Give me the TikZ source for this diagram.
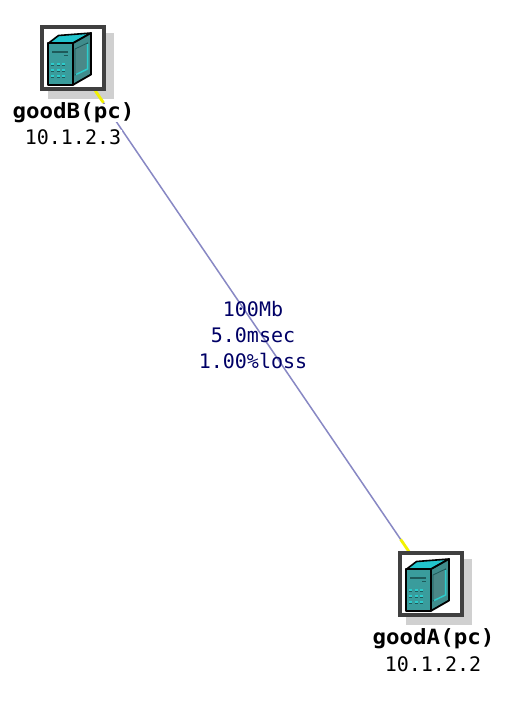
\documentclass[tikz,border=0pt]{standalone}
\usepackage{fontspec}
\usetikzlibrary{calc,backgrounds}
\newfontfamily\regfont{DejaVu Sans Mono}
\newfontfamily\boldfont[FakeStretch=1.07]{DejaVu Sans Mono Bold}
\definecolor{framegray}{HTML}{404040}
\definecolor{shadowgray}{HTML}{D0D0D0}
\definecolor{linkblue}{HTML}{8888C4}
\definecolor{linkyellow}{HTML}{F2F200}
\definecolor{labelnavy}{HTML}{000066}
\definecolor{pcfront}{HTML}{3A9C9C}
\definecolor{pctop}{HTML}{22C4CC}
\definecolor{pcside}{HTML}{3F8C8C}
\definecolor{pcscreen}{HTML}{4A8888}
\definecolor{pcedge}{HTML}{2CCCCC}
\definecolor{pcbar}{HTML}{1E5A5A}
\tikzset{
  framebox/.style={draw=framegray,line width=4pt,fill=white,minimum size=62pt,inner sep=0pt,outer sep=0pt},
  shadowbox/.style={fill=shadowgray,minimum size=66pt,inner sep=0pt,outer sep=0pt},
  namelabel/.style={font=\boldfont\fontsize{21}{21}\selectfont,fill=white,inner xsep=1pt,inner ysep=0pt,text height=15pt,text depth=3pt},
  addrlabel/.style={font=\regfont\fontsize{20}{20}\selectfont,fill=white,inner xsep=1pt,inner ysep=0pt,text height=15pt,text depth=0pt},
  linklabel/.style={font=\regfont\fontsize{20}{20}\selectfont,text=labelnavy,inner sep=0pt},
  linkline/.style={draw=linkblue,line width=1.5pt},
  stubline/.style={draw=linkyellow,line width=2.8pt},
  pcout/.style={draw=black,line width=1.8pt,line join=round}
}
\newcommand{\pcicon}[1]{%
  \begin{scope}[shift={(#1)}]
    \fill[pctop,draw=black,line width=1.6pt,line join=round] (-24.7,-14.7) -- (-14.5,-22.5) -- (18,-25) -- (-0.3,-14.7) -- cycle;
    \fill[pcside,draw=black,line width=1.8pt,line join=round] (-0.3,-14.7) -- (18,-25) -- (18,16.5) -- (-0.3,27) -- cycle;
    \fill[pcscreen,draw=pcbar,line width=0.8pt] (2,-9) -- (14.5,-15) -- (14.5,11) -- (2,17) -- cycle;
    \draw[pcedge,line width=1.5pt] (14.5,-14) -- (14.5,11) -- (3,16.5);
    \fill[pcfront] (-24.7,-14.7) rectangle (-0.3,27);
    \draw[pcout] (-24.7,-14.7) rectangle (-0.3,27);
    \fill[pcbar] (-21.5,-7) rectangle (-5,-5.2);
    \fill[pcbar] (-9,-3.5) rectangle (-5,-1.8);
    \foreach \py in {6.5,12.5,18.5}
      \foreach \px in {-20.5,-15,-9.5}
        {\fill[pcbar] (\px-1.5,\py) rectangle (\px+1.5,\py+1.5);
         \fill[pcedge] (\px-1.5,\py-1.5) rectangle (\px+1.5,\py);}
  \end{scope}}
\begin{document}
\begin{tikzpicture}[x=1pt,y=-1pt]
  \useasboundingbox (0,0) rectangle (518,707);
  % boxes
  \node[framebox] (boxB) at (73,58) {};
  \node[framebox] (boxA) at (431,584) {};
  \pcicon{73,58}
  \pcicon{431,584}
  \begin{scope}[on background layer]
    \fill[white] (0,0) rectangle (518,707);
    \node[shadowbox] (shadowB) at (81,66) {};
    \node[shadowbox] (shadowA) at (439,592) {};
    \draw[linkline] (boxB.center) -- (boxA.center);
    \coordinate (stubB) at ($(boxB.center)!0.085!(boxA.center)$);
    \coordinate (stubA) at ($(boxB.center)!0.915!(boxA.center)$);
    \draw[stubline] (boxB.center) -- (stubB);
    \draw[stubline] (boxA.center) -- (stubA);
  \end{scope}
  % labels
  \node[namelabel] (nameB) at (73.5,112.5) {goodB(pc)};
  \node[addrlabel] (addrB) at (73,137) {10.1.2.3};
  \node[namelabel] (nameA) at (433.5,638.5) {goodA(pc)};
  \node[addrlabel] (addrA) at (433,664) {10.1.2.2};
  \node[linklabel] (bw) at (253,309) {100Mb};
  \node[linklabel] (delay) at (253,335) {5.0msec};
  \node[linklabel] (loss) at (253,361) {1.00\%loss};
\end{tikzpicture}
\end{document}
